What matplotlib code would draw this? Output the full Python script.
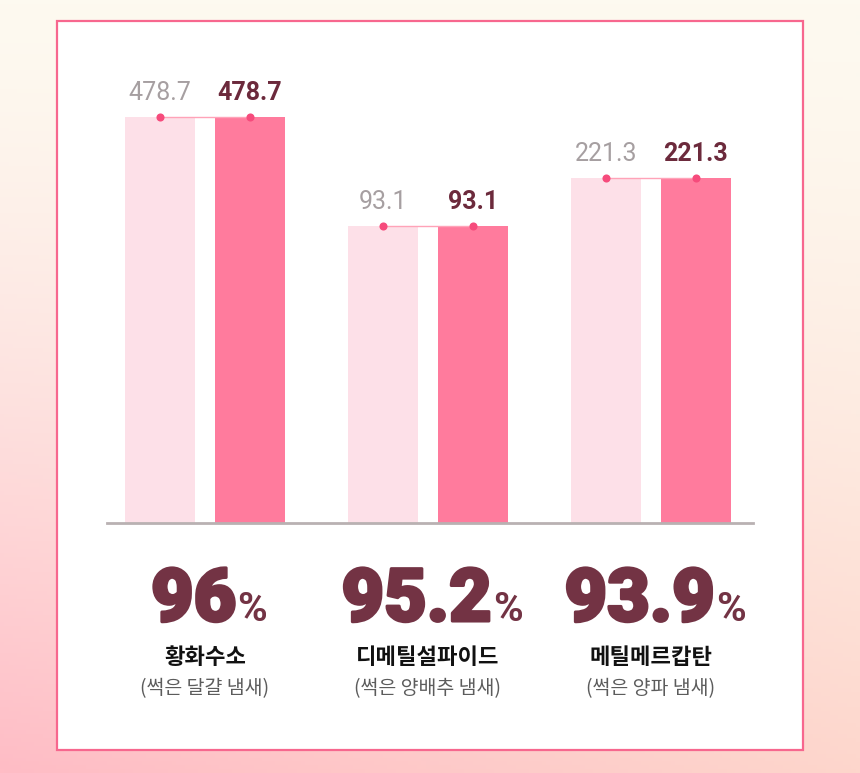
import numpy as np
import matplotlib
matplotlib.use("Agg")
import matplotlib.pyplot as plt
import matplotlib.patheffects as pe
from matplotlib.patches import Rectangle
from matplotlib.transforms import blended_transform_factory

plt.rcParams["font.family"] = ["Noto Sans CJK KR", "DejaVu Sans"]

# data
gases = ["황화수소", "디메틸설파이드", "메틸메르캅탄"]
smells = ["(썩은 달걀 냄새)", "(썩은 양배추 냄새)", "(썩은 양파 냄새)"]
before_labels = ["478.7", "93.1", "221.3"]
after_labels = ["478.7", "93.1", "221.3"]
bar_heights = [406, 297, 345]  # drawn heights
reduction = ["96", "95.2", "93.9"]

W, H = 860, 773
fig = plt.figure(figsize=(W / 100, H / 100), dpi=100)

# background gradient
bg = fig.add_axes([0, 0, 1, 1])
yy, xx = np.mgrid[0:1:200j, 0:1:200j]
t = yy ** 1.4
top = np.array([253, 250, 240]) / 255
bot_l = np.array([255, 188, 197]) / 255
bot_r = np.array([253, 214, 204]) / 255
bot = bot_l[None, None, :] * (1 - xx[..., None]) + bot_r[None, None, :] * xx[..., None]
img = top[None, None, :] * (1 - t[..., None]) + bot * t[..., None]
bg.imshow(img, extent=[0, 1, 0, 1], aspect="auto", origin="upper")
bg.set_axis_off()

# white card
fig.patches.append(Rectangle((57 / W, 1 - 750 / H), (803 - 57) / W, (750 - 21) / H,
                             transform=fig.transFigure, facecolor="white",
                             edgecolor="#f7678e", linewidth=1.6, zorder=1))

ax = fig.add_axes([107 / W, 1 - 523 / H, (753 - 107) / W, (523 - 60) / H])
ax.set_zorder(2)
ax.patch.set_alpha(0)

x = np.arange(len(gases))
bw = 70 / 223
off = 45 / 223
ax.bar(x - off, bar_heights, width=bw, color="#fde0e8", zorder=2)
ax.bar(x + off, bar_heights, width=bw, color="#ff7b9d", zorder=2)

for i in range(len(gases)):
    h = bar_heights[i]
    ax.plot([x[i] - off, x[i] + off], [h, h], color="#ffa3b8", lw=1, zorder=3)
    ax.scatter([x[i] - off, x[i] + off], [h, h], s=34, color="#f64b7c", zorder=4, linewidths=0)
    ax.annotate(before_labels[i], (x[i] - off, h), xytext=(0, 12), textcoords="offset points",
                ha="center", va="baseline", fontsize=18, color="#a69fa1", family="Roboto")
    ax.annotate(after_labels[i], (x[i] + off, h), xytext=(0, 12), textcoords="offset points",
                ha="center", va="baseline", fontsize=18, color="#6c2a3c", family="Roboto",
                fontweight="bold")

ax.set_xlim(-98 / 223, 2 + 102 / 223)
ax.set_ylim(0, 463)
for s in ["top", "right", "left"]:
    ax.spines[s].set_visible(False)
ax.spines["bottom"].set_color("#b9b1b2")
ax.spines["bottom"].set_linewidth(2)
ax.set_xticks([])
ax.set_yticks([])

# texts below the axis
tr = blended_transform_factory(ax.transData, fig.transFigure)
heavy = [pe.withStroke(linewidth=2.2, foreground="#733344")]
nums, pcts = [], []
for i in range(len(gases)):
    n = fig.text(x[i], 1 - 621 / H, reduction[i], transform=tr, ha="left", va="baseline",
                 fontsize=53, fontweight="black", color="#733344", family="Roboto",
                 path_effects=heavy)
    p = fig.text(x[i], 1 - 621 / H, "%", transform=tr, ha="left", va="baseline",
                 fontsize=29, fontweight="bold", color="#733344", family="Roboto")
    nums.append(n)
    pcts.append(p)
    fig.text(x[i], 1 - 658 / H, gases[i], transform=tr, ha="center", va="center",
             fontsize=16, fontweight="bold", color="#111111")
    fig.text(x[i], 1 - 689 / H, smells[i], transform=tr, ha="center", va="center",
             fontsize=14, color="#5c5c5c")

fig.canvas.draw()
r = fig.canvas.get_renderer()
inv = ax.transData.inverted()
for i in range(len(gases)):
    wn = nums[i].get_window_extent(r).width
    wp = pcts[i].get_window_extent(r).width
    gap = 1
    cx = ax.transData.transform((x[i], 0))[0] + 4
    left = cx - (wn + wp + gap) / 2
    nums[i].set_x(inv.transform((left, 0))[0])
    pcts[i].set_x(inv.transform((left + wn + gap, 0))[0])

fig.savefig("out.png", dpi=100)
